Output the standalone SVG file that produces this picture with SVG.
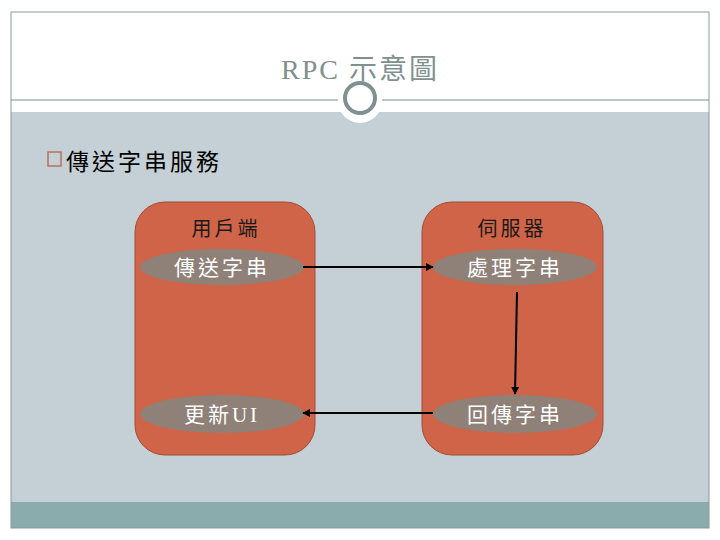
<svg xmlns="http://www.w3.org/2000/svg" width="720" height="540" viewBox="0 0 720 540">
<defs>
<style>
.col{fill:#d06448;stroke:#a34c37;stroke-width:1}
.ell{fill:#8f8078}
.hdr{font-family:"Liberation Serif","Noto Sans CJK TC",serif;font-size:20px;fill:#1a1a1a;text-anchor:middle;letter-spacing:3px}
.lbl{font-family:"Liberation Serif","Noto Sans CJK TC",serif;font-size:21px;fill:#ffffff;text-anchor:middle;letter-spacing:3px}
.con{stroke:#000;stroke-width:2;fill:none;marker-end:url(#ah)}
</style>
<marker id="ah" viewBox="0 0 10 10" refX="9" refY="5" markerWidth="4" markerHeight="4" orient="auto" markerUnits="strokeWidth">
<path d="M0,0 L10,5 L0,10 z" fill="#000"/>
</marker>
</defs>
<rect width="720" height="540" fill="#ffffff"/>
<rect x="11" y="112" width="698" height="390" fill="#c5d0d6"/>
<rect x="11" y="502" width="698" height="26" fill="#8aacac"/>
<rect x="11" y="12" width="698" height="516" fill="none" stroke="#8a9a9a" stroke-width="1"/>
<line x1="11" y1="100" x2="338" y2="100" stroke="#7f9090" stroke-width="1"/>
<line x1="382" y1="100" x2="709" y2="100" stroke="#7f9090" stroke-width="1"/>
<circle cx="360" cy="101" r="22" fill="#ffffff"/>
<circle cx="360" cy="98" r="15" fill="none" stroke="#7f9090" stroke-width="4"/>
<text x="360" y="79" font-family="Liberation Serif,'Noto Sans CJK TC',serif" font-size="28" fill="#7f9090" text-anchor="middle" letter-spacing="2">RPC 示意圖</text>
<rect x="48" y="152" width="13" height="14" fill="none" stroke="#b8705e" stroke-width="1.5"/>
<text x="66" y="170" font-family="Liberation Serif,'Noto Sans CJK TC',serif" font-size="23" fill="#000" letter-spacing="3">傳送字串服務</text>
<g id="client">
<rect class="col" x="135" y="202" width="180" height="253" rx="30"/>
<text class="hdr" x="226" y="236">用戶端</text>
</g>
<g id="server">
<rect class="col" x="422" y="202" width="181" height="253" rx="30"/>
<text class="hdr" x="512" y="236">伺服器</text>
</g>
<g id="send">
<ellipse class="ell" cx="222" cy="267" rx="82" ry="18"/>
<text class="lbl" x="222" y="275">傳送字串</text>
</g>
<g id="process">
<ellipse class="ell" cx="515" cy="267" rx="82" ry="18"/>
<text class="lbl" x="515" y="275">處理字串</text>
</g>
<g id="update">
<ellipse class="ell" cx="222" cy="414" rx="82" ry="19"/>
<text class="lbl" x="222" y="422">更新UI</text>
</g>
<g id="reply">
<ellipse class="ell" cx="515" cy="414" rx="82" ry="19"/>
<text class="lbl" x="515" y="422">回傳字串</text>
</g>
<g id="connectors">
<line class="con" x1="303" y1="267" x2="433" y2="267"/>
<line class="con" x1="517" y1="292" x2="515" y2="394"/>
<line class="con" x1="433" y1="413" x2="303" y2="413"/>
</g>
</svg>
